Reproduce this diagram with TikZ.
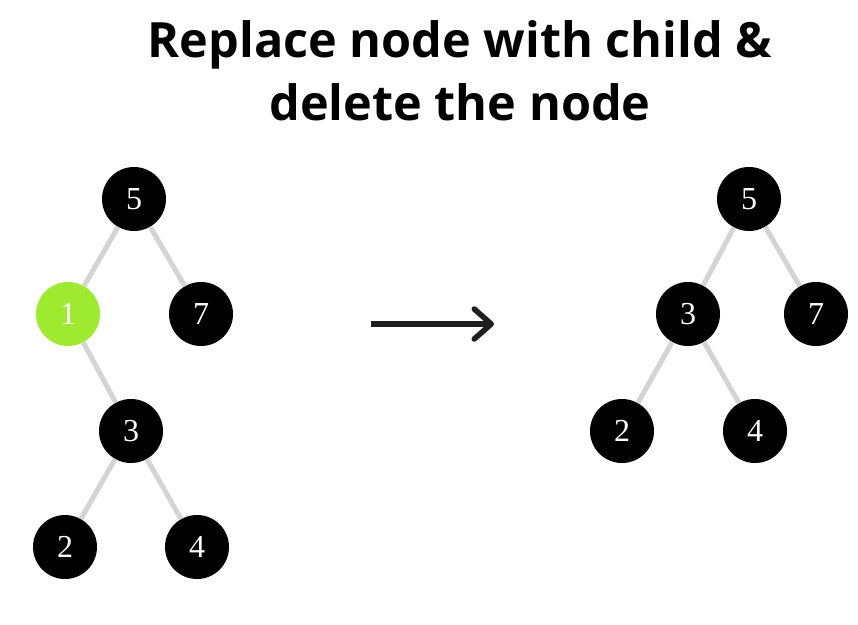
\documentclass[tikz,border=0pt]{standalone}
\usepackage{fontspec}
\setmainfont{Liberation Serif}
\newfontfamily\titlefont{Open Sans}[BoldFont={* Bold}]
\usetikzlibrary{arrows.meta}
\definecolor{edgegray}{RGB}{212,212,212}
\definecolor{hlgreen}{RGB}{158,234,48}
\definecolor{arrowdark}{RGB}{30,30,30}
\tikzset{
  bst/.style={circle, fill=black, text=white, minimum size=64pt, inner sep=0pt, font=\fontsize{32}{32}\selectfont},
  bsthl/.style={bst, fill=hlgreen},
  treeedge/.style={draw=edgegray, line width=5pt},
  bigarrow/.style={draw=arrowdark, line width=5.5pt, -{Straight Barb[length=17pt,width=30pt,line cap=round,line join=round]}}
}
\begin{document}
\begin{tikzpicture}[x=1pt,y=-1pt]
\useasboundingbox (0,0) rectangle (858,624);
\node[font=\titlefont\bfseries\fontsize{48.6}{63}\selectfont, align=center, anchor=base] (title) at (460,120) {Replace node with child \&\\delete the node};
% left tree
\node[bst] (l5) at (134,199) {5};
\node[bsthl] (l1) at (68,314) {1};
\node[bst] (l7) at (201,314) {7};
\node[bst] (l3) at (131,431) {3};
\node[bst] (l2) at (65,547) {2};
\node[bst] (l4) at (197,547) {4};
% right tree
\node[bst] (r5) at (749,199) {5};
\node[bst] (r3) at (688,314) {3};
\node[bst] (r7) at (816,314) {7};
\node[bst] (r2) at (622,431) {2};
\node[bst] (r4) at (755,431) {4};
\draw[treeedge] (l5) -- (l1);
\draw[treeedge] (l5) -- (l7);
\draw[treeedge] (l1) -- (l3);
\draw[treeedge] (l3) -- (l2);
\draw[treeedge] (l3) -- (l4);
\draw[treeedge] (r5) -- (r3);
\draw[treeedge] (r5) -- (r7);
\draw[treeedge] (r3) -- (r2);
\draw[treeedge] (r3) -- (r4);
\coordinate (as) at (371,324);
\coordinate (ae) at (494,324);
\draw[bigarrow] (as) -- (ae);
\end{tikzpicture}
\end{document}
